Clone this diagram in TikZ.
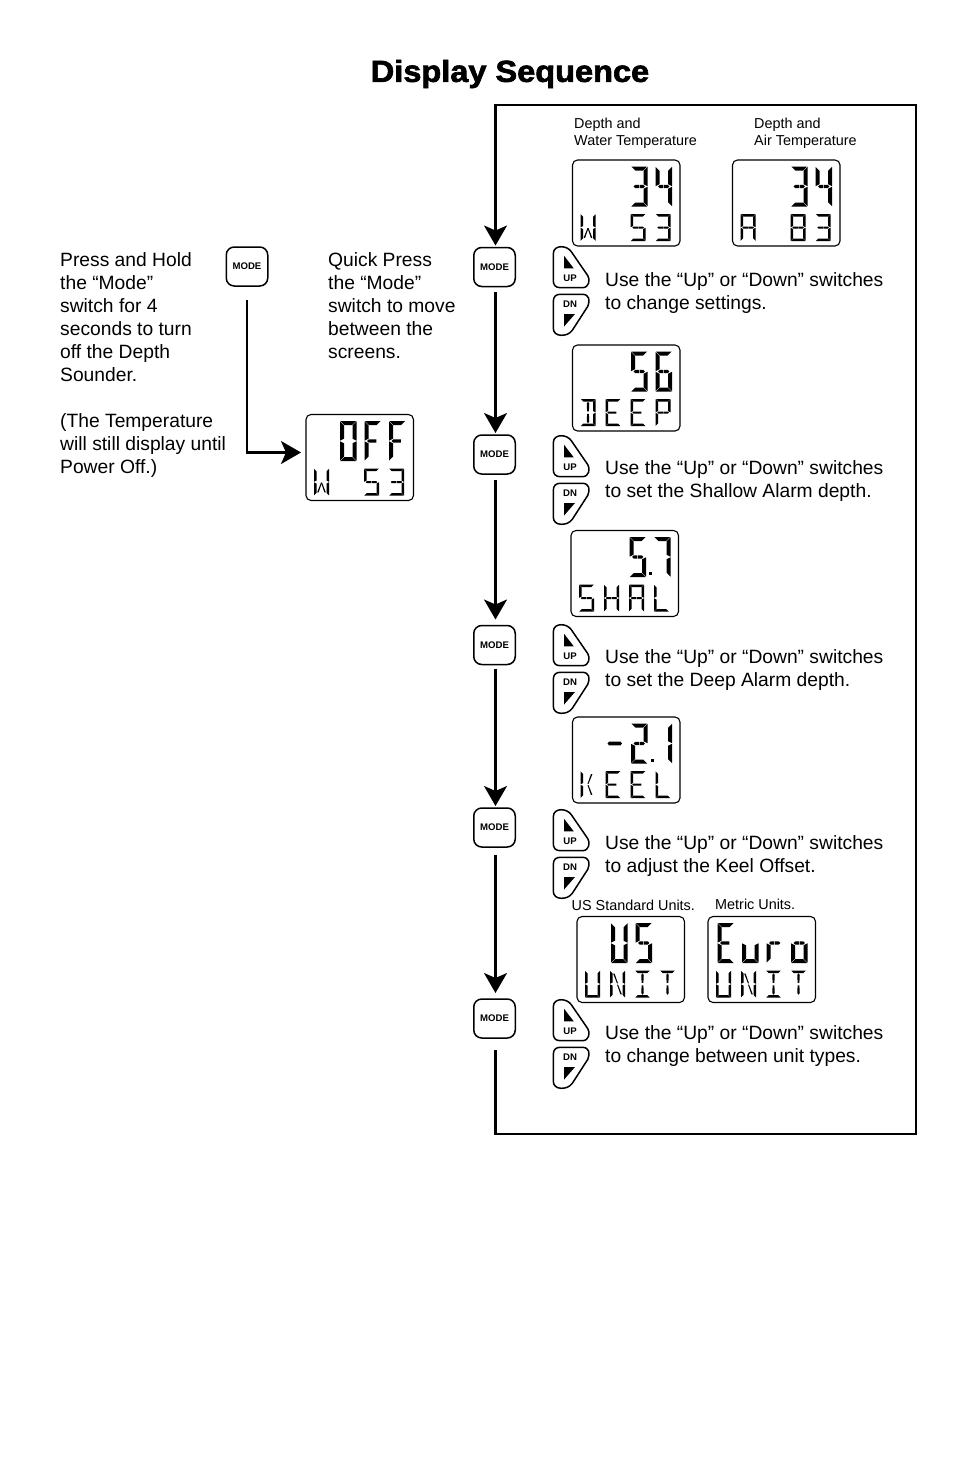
\documentclass[tikz,border=0pt]{standalone}
\usepackage{fontspec}
\setmainfont{Liberation Sans}
\newfontfamily\titlefont[BoldFeatures={FakeBold=2.2,FakeStretch=1.07}]{Liberation Sans}
\usetikzlibrary{arrows.meta}

\tikzset{
	flowline/.style={line width=2.1pt,-{Stealth[length=20pt,width=23pt,inset=5pt]}},
	lcdbox/.style={draw,line width=1.1pt,rounded corners=5pt,anchor=north west,minimum width=107.5pt,minimum height=86pt,inner sep=0pt,outer sep=0pt},
	modekey/.style={draw,line width=1.5pt,rounded corners=8pt,minimum width=41.5pt,minimum height=39pt,inner sep=0pt,outer sep=0pt,font=\fontsize{9.6}{10}\selectfont\bfseries},
	keylabel/.style={inner sep=0pt,font=\fontsize{9.6}{10}\selectfont\bfseries},
	bodytext/.style={anchor=north west,align=left,inner sep=0pt,font=\fontsize{19.25}{23}\selectfont},
	smalltext/.style={anchor=north west,align=left,inner sep=0pt,font=\fontsize{14.4}{17}\selectfont},
	pics/upkey/.style={code={
		\draw[line width=1.5pt] (0,7) .. controls (0,2) and (4,0) .. (8,0) .. controls (12,0) and (16,2) .. (18,5) -- (34.5,29) .. controls (37,33) and (36,41) .. (29,41) -- (7,41) .. controls (2,41) and (0,38) .. (0,34) -- cycle;
		\fill (10.7,9) -- (10.7,21.7) -- (20.5,21.7) -- cycle;
		\node[keylabel] (-label) at (16.7,32) {UP};
	}},
	pics/dnkey/.style={code={
		\draw[line width=1.5pt] (0,7) .. controls (0,2) and (3,0) .. (7,0) -- (29,0) .. controls (36,0) and (37,6) .. (34.5,12) -- (19,36) .. controls (16,40) and (12,41) .. (8,41) .. controls (3,41) and (0,38) .. (0,34) -- cycle;
		\fill (10.7,19.7) -- (21.7,19.7) -- (10.7,32.3) -- cycle;
		\node[keylabel] (-label) at (16.7,9.5) {DN};
	}},
}

\newcommand{\defseg}[2]{\expandafter\def\csname seg#1\endcsname{\fill #2;}}
\defseg{a}{(\lcdg,0) -- (\lcdw-\lcdg,0) -- (\lcdw-\lcdt-\lcdg,\lcdt) -- (\lcdt+\lcdg,\lcdt) -- cycle}
\defseg{d}{(\lcdg,\lcdh) -- (\lcdw-\lcdg,\lcdh) -- (\lcdw-\lcdt-\lcdg,\lcdh-\lcdt) -- (\lcdt+\lcdg,\lcdh-\lcdt) -- cycle}
\defseg{f}{(0,\lcdg) -- (\lcdt,\lcdt+\lcdg) -- (\lcdt,\lcdm-\lcdt/2-\lcdg) -- (0,\lcdm-\lcdg) -- cycle}
\defseg{e}{(0,\lcdm+\lcdg) -- (\lcdt,\lcdm+\lcdt/2+\lcdg) -- (\lcdt,\lcdh-\lcdt-\lcdg) -- (0,\lcdh-\lcdg) -- cycle}
\defseg{b}{(\lcdw,\lcdg) -- (\lcdw-\lcdt,\lcdt+\lcdg) -- (\lcdw-\lcdt,\lcdm-\lcdt/2-\lcdg) -- (\lcdw,\lcdm-\lcdg) -- cycle}
\defseg{c}{(\lcdw,\lcdm+\lcdg) -- (\lcdw-\lcdt,\lcdm+\lcdt/2+\lcdg) -- (\lcdw-\lcdt,\lcdh-\lcdt-\lcdg) -- (\lcdw,\lcdh-\lcdg) -- cycle}
\defseg{g}{(\lcdg+\lcdt*.6,\lcdm) -- (\lcdt+\lcdg,\lcdm-\lcdt*.4) -- (\lcdw/2-\lcdg,\lcdm-\lcdt*.4) -- (\lcdw/2-\lcdg,\lcdm+\lcdt*.4) -- (\lcdt+\lcdg,\lcdm+\lcdt*.4) -- cycle}
\defseg{h}{(\lcdw-\lcdg-\lcdt*.6,\lcdm) -- (\lcdw-\lcdt-\lcdg,\lcdm-\lcdt*.4) -- (\lcdw/2+\lcdg,\lcdm-\lcdt*.4) -- (\lcdw/2+\lcdg,\lcdm+\lcdt*.4) -- (\lcdw-\lcdt-\lcdg,\lcdm+\lcdt*.4) -- cycle}
\defseg{q}{(\lcdg+\lcdt*.6,\lcdm) -- (\lcdt+\lcdg,\lcdm-\lcdt*.4) -- (\lcdw*.72,\lcdm-\lcdt*.4) -- (\lcdw*.72,\lcdm+\lcdt*.4) -- (\lcdt+\lcdg,\lcdm+\lcdt*.4) -- cycle}
\defseg{p}{(1,\lcdm) -- (2.5,\lcdm-\lcdt*.45) -- (\lcdw-2.5,\lcdm-\lcdt*.45) -- (\lcdw-1,\lcdm) -- (\lcdw-2.5,\lcdm+\lcdt*.45) -- (2.5,\lcdm+\lcdt*.45) -- cycle}
\defseg{i}{(\lcdw/2,\lcdt+\lcdg) -- (\lcdw/2+\lcdt*.5,\lcdt+2) -- (\lcdw/2+\lcdt*.35,\lcdm-\lcdg-1) -- (\lcdw/2-\lcdt*.35,\lcdm-\lcdg-1) -- (\lcdw/2-\lcdt*.5,\lcdt+2) -- cycle}
\defseg{j}{(\lcdw/2,\lcdh-\lcdt-\lcdg) -- (\lcdw/2+\lcdt*.5,\lcdh-\lcdt-2) -- (\lcdw/2+\lcdt*.35,\lcdm+\lcdg+1) -- (\lcdw/2-\lcdt*.35,\lcdm+\lcdg+1) -- (\lcdw/2-\lcdt*.5,\lcdh-\lcdt-2) -- cycle}
\defseg{k}{(\lcdt+.6,\lcdt+.6) -- (\lcdt*1.6+.6,\lcdt+.6) -- (\lcdw/2+.5,\lcdm-.6) -- (\lcdw/2-.5,\lcdm-.6) -- cycle}
\defseg{l}{(\lcdw-\lcdt-.6,\lcdh-\lcdt-.6) -- (\lcdw-\lcdt*1.6-.6,\lcdh-\lcdt-.6) -- (\lcdw/2-.5,\lcdm+.6) -- (\lcdw/2+.5,\lcdm+.6) -- cycle}
\defseg{m}{(\lcdw-\lcdt-.6,\lcdt+.6) -- (\lcdw-\lcdt*1.6-.6,\lcdt+.6) -- (\lcdw/2-.5,\lcdm-.6) -- (\lcdw/2+.5,\lcdm-.6) -- cycle}
\defseg{n}{(\lcdt+.6,\lcdh-\lcdt-.6) -- (\lcdt*1.6+.6,\lcdh-\lcdt-.6) -- (\lcdw/2+.5,\lcdm+.6) -- (\lcdw/2-.5,\lcdm+.6) -- cycle}

\newcommand{\defglyph}[2]{\expandafter\def\csname glyph#1\endcsname{#2}}
\defglyph{*}{}
\defglyph{-}{p}
\defglyph{0}{a,b,c,d,e,f}
\defglyph{1}{b,c}
\defglyph{2}{a,b,g,h,e,d}
\defglyph{3}{a,b,g,h,c,d}
\defglyph{4}{f,g,h,b,c}
\defglyph{5}{a,f,g,h,c,d}
\defglyph{6}{a,f,g,h,e,c,d}
\defglyph{7}{a,b,c}
\defglyph{8}{a,b,c,d,e,f,g,h}
\defglyph{A}{a,b,c,e,f,g,h}
\defglyph{D}{a,b,c,d,i,j}
\defglyph{E}{a,d,e,f,q}
\defglyph{F}{a,e,f,q}
\defglyph{H}{b,c,e,f,g,h}
\defglyph{I}{a,d,i,j}
\defglyph{K}{e,f,m,l}
\defglyph{L}{d,e,f}
\defglyph{N}{b,c,e,f,k,l}
\defglyph{P}{a,b,e,f,g,h}
\defglyph{S}{a,f,g,h,c,d}
\defglyph{T}{a,i,j}
\defglyph{U}{b,c,d,e,f}
\defglyph{W}{b,c,e,f,n,l}
\defglyph{u}{c,d,e}
\defglyph{r}{e,g,h}
\defglyph{o}{c,d,e,g,h}

\newcommand{\lcdglyph}[1]{%
	\expandafter\let\expandafter\seglist\csname glyph#1\endcsname
	\foreach \s in \seglist {\csname seg\s\endcsname}}
% screen: name, left, top, big row, small row
\newcommand{\lcdscreen}[5]{%
	\node[lcdbox] (#1) at (#2,#3) {};
	\foreach \g [count=\c from 0] in {#4} {
		\begin{scope}[shift={(#2+9.5+24.5*\c,#3+6.5)}]
			\def\lcdw{16.5}\def\lcdh{40}\def\lcdm{20}\def\lcdt{4}\def\lcdg{.3}
			\lcdglyph{\g}
		\end{scope}
	}
	\foreach \g [count=\c from 0] in {#5} {
		\begin{scope}[shift={(#2+8+25*\c,#3+54)}]
			\def\lcdw{15}\def\lcdh{27}\def\lcdm{13.5}\def\lcdt{2.5}\def\lcdg{.25}
			\lcdglyph{\g}
		\end{scope}
	}
}

\begin{document}
\begin{tikzpicture}[x=1pt,y=-1pt]
	\useasboundingbox (0,0) rectangle (954,1475);

	\node[font=\fontsize{30.4}{34}\selectfont\titlefont\bfseries] (title) at (510,74) {Display Sequence};

	\node[smalltext] (label-w) at (574,117.5) {Depth and\\Water Temperature};
	\node[smalltext] (label-a) at (754,117.5) {Depth and\\Air Temperature};
	\node[smalltext] (label-us) at (571.5,899.5) {US Standard Units.};
	\node[smalltext] (label-eu) at (715,898.5) {Metric Units.};

	\lcdscreen{lcd-w}{572.5}{160}{*,*,3,4}{W,*,5,3}
	\lcdscreen{lcd-a}{732.5}{160}{*,*,3,4}{A,*,8,3}
	\lcdscreen{lcd-off}{306}{414.5}{*,0,F,F}{W,*,5,3}
	\lcdscreen{lcd-deep}{572.5}{345}{*,*,5,6}{D,E,E,P}
	\lcdscreen{lcd-shal}{571}{530.5}{*,*,5,7}{S,H,A,L}
	\lcdscreen{lcd-keel}{572.5}{717}{*,-,2,1}{K,E,E,L}
	\lcdscreen{lcd-us}{577}{916.5}{*,U,S,*}{U,N,I,T}
	\lcdscreen{lcd-eu}{708}{916.5}{E,u,r,o}{U,N,I,T}
	\fill (648.5,572) rectangle +(3,3);
	\fill (650.5,759) rectangle +(3,3);

	\node[modekey] (mode-0) at (247,266.5) {MODE};
	\node[modekey] (mode-1) at (494.5,267) {MODE};
	\node[modekey] (mode-2) at (494.5,454.5) {MODE};
	\node[modekey] (mode-3) at (494.5,645) {MODE};
	\node[modekey] (mode-4) at (494.5,827.5) {MODE};
	\node[modekey] (mode-5) at (494.5,1018.5) {MODE};

	\foreach \y/\n in {246.7/1,435.7/2,624.7/3,809.7/4,999.7/5} {
		\pic (up-\n) at (553.3,\y) {upkey};
		\pic (dn-\n) at (553.3,\y+47.6) {dnkey};
	}

	\node[bodytext] (hold) at (60,252) {Press and Hold\\the “Mode”\\switch for 4\\seconds to turn\\off the Depth\\Sounder.\\[23pt](The Temperature\\will still display until\\Power Off.)};
	\node[bodytext] (quick) at (328,252) {Quick Press\\the “Mode”\\switch to move\\between the\\screens.};
	\node[bodytext] (use-1) at (605,272) {Use the “Up” or “Down” switches\\to change settings.};
	\node[bodytext] (use-2) at (605,460) {Use the “Up” or “Down” switches\\to set the Shallow Alarm depth.};
	\node[bodytext] (use-3) at (605,649) {Use the “Up” or “Down” switches\\to set the Deep Alarm depth.};
	\node[bodytext] (use-4) at (605,835) {Use the “Up” or “Down” switches\\to adjust the Keel Offset.};
	\node[bodytext] (use-5) at (605,1025) {Use the “Up” or “Down” switches\\to change between unit types.};

	\coordinate (loop-a) at (495.5,1134);
	\coordinate (loop-b) at (916,1134);
	\coordinate (loop-c) at (916,105);
	\coordinate (loop-d) at (495.5,105);

	\path[flowline]
	([xshift=1pt]mode-1.south) edge[shorten <=5pt,shorten >=2pt] ([xshift=1pt]mode-2.north)
	([xshift=1pt]mode-2.south) edge[shorten <=6pt,shorten >=6pt] ([xshift=1pt]mode-3.north)
	([xshift=1pt]mode-3.south) edge[shorten <=4pt,shorten >=2pt] ([xshift=1pt]mode-4.north)
	([xshift=1pt]mode-4.south) edge[shorten <=8pt,shorten >=6pt] ([xshift=1pt]mode-5.north);
	\draw[flowline,shorten <=12pt,shorten >=2pt] ([xshift=1pt]mode-5.south) -- (loop-a) -- (loop-b) -- (loop-c) -- (loop-d) -- ([xshift=1pt]mode-1.north);
	\draw[flowline,shorten <=14pt,shorten >=5pt] (mode-0.south) |- ([yshift=5pt]lcd-off.west);
\end{tikzpicture}
\end{document}
